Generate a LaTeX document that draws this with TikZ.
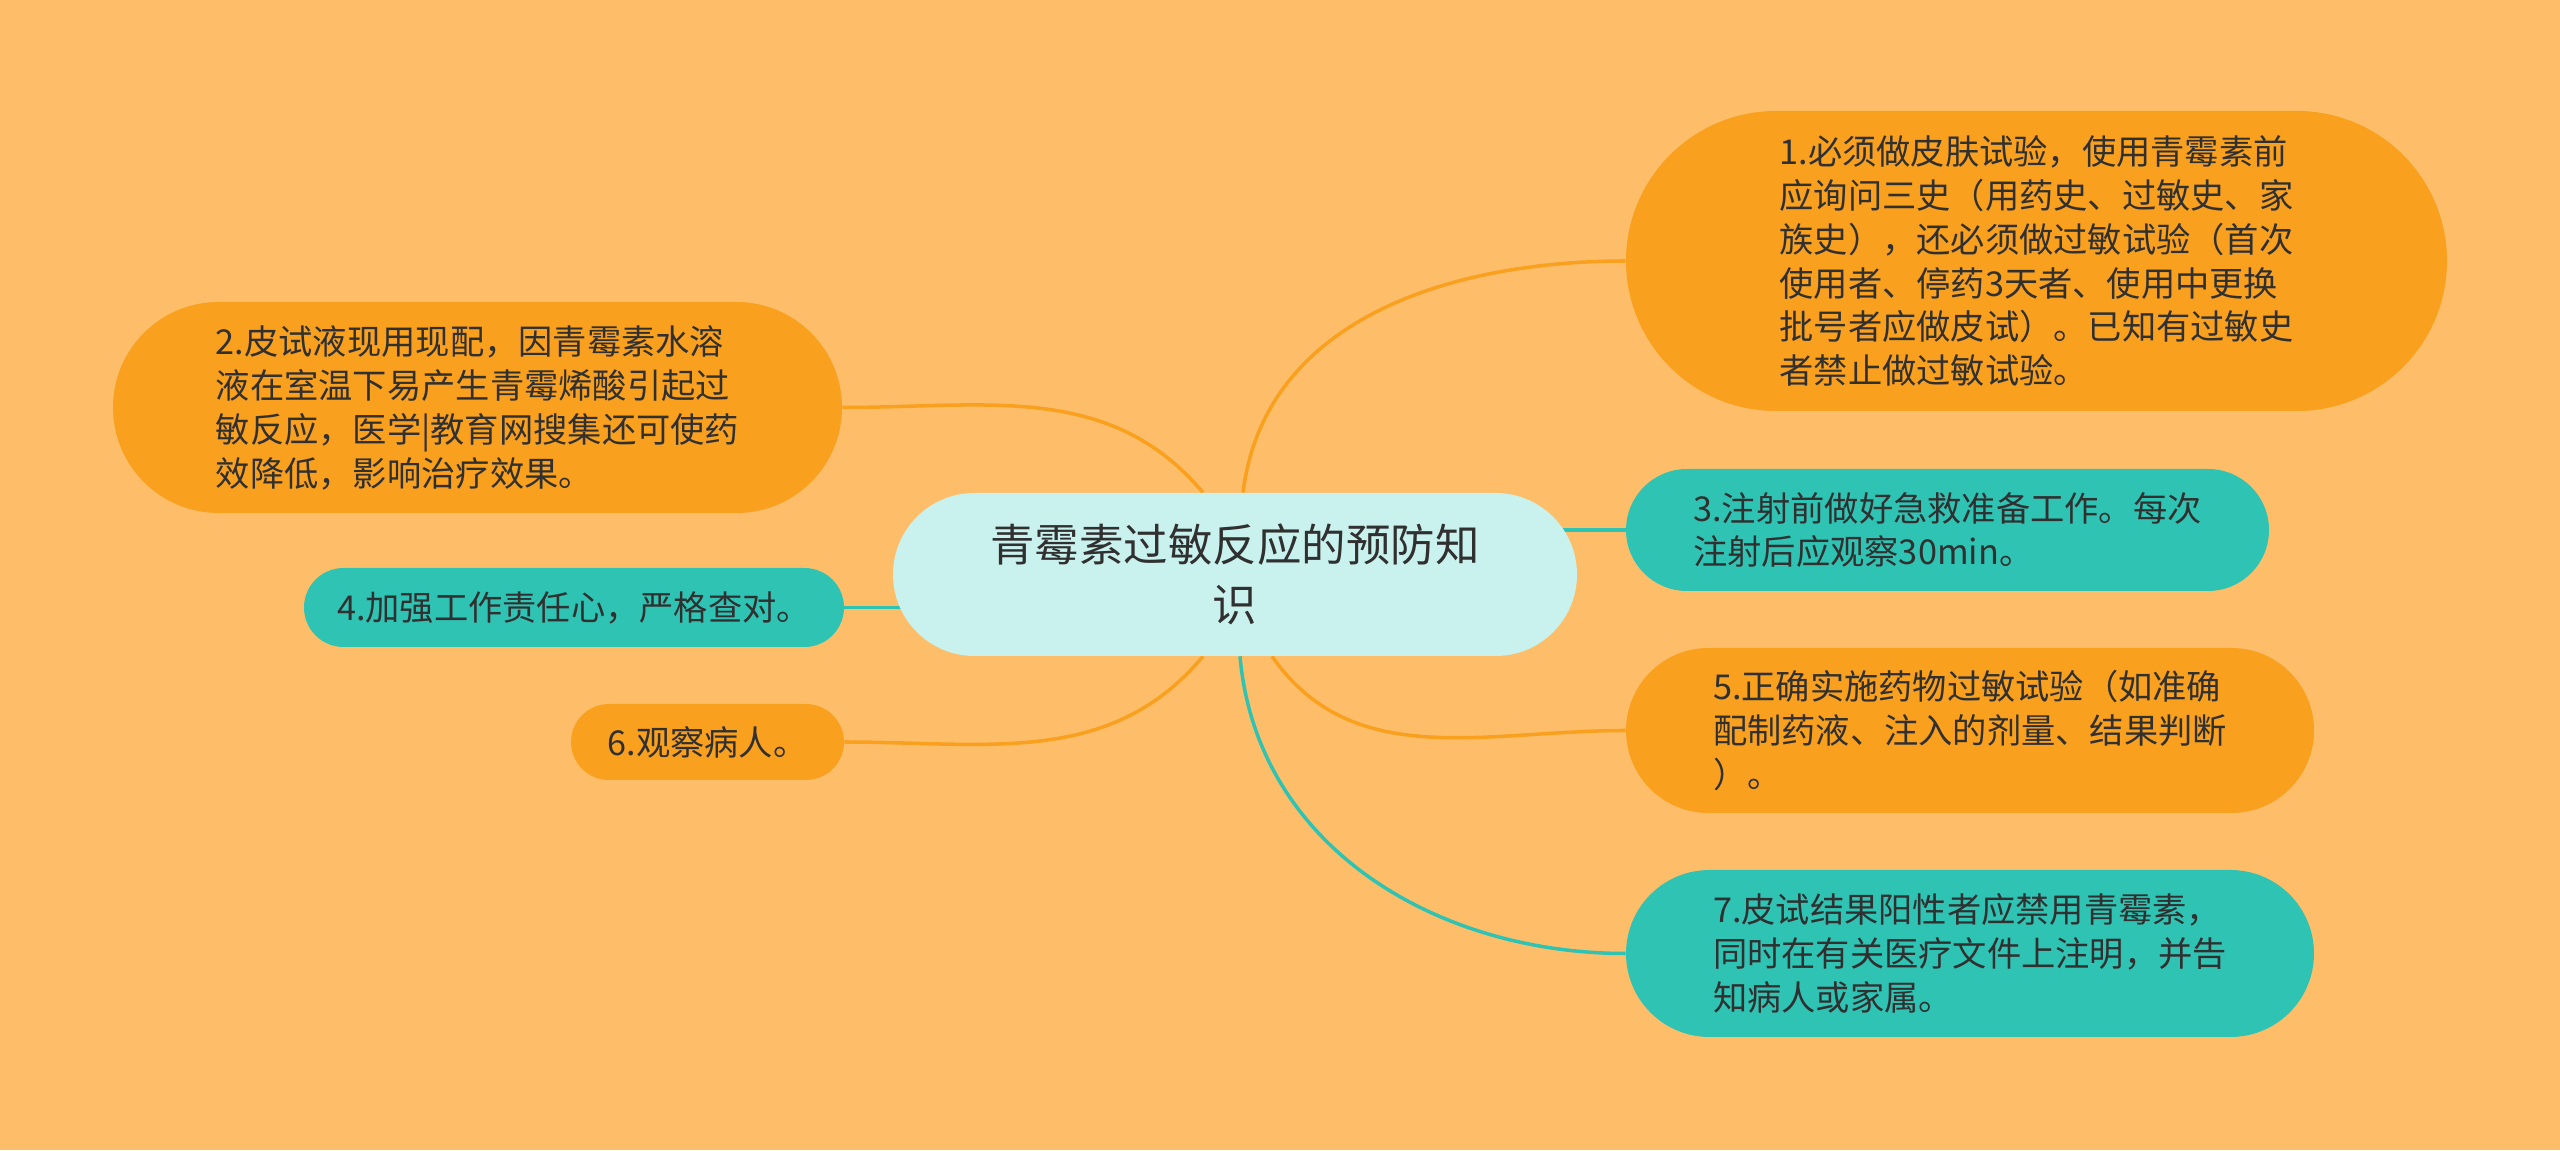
\documentclass[tikz,border=0pt]{standalone}
\usepackage{fontspec}
\setmainfont{Noto Sans CJK SC}
\usetikzlibrary{shapes.misc,backgrounds,calc}

\definecolor{bgorange}{HTML}{FEBE69}
\definecolor{leaforange}{HTML}{F9A01E}
\definecolor{leafteal}{HTML}{2FC3B4}
\definecolor{rootcyan}{HTML}{C9F2EE}
\definecolor{textgray}{HTML}{303030}

\begin{document}
\begin{tikzpicture}[
  x = 0.02cm, y = 0.02cm,
  every node/.style = {rounded rectangle, inner sep = 0pt, align = left, text = textgray,
                       font = \fontsize{19.5pt}{25pt}\selectfont},
  root/.style = {fill = rootcyan, align = center, font = \fontsize{25.3pt}{34pt}\selectfont},
  orangeleaf/.style = {fill = leaforange},
  tealleaf/.style = {fill = leafteal},
  boxsize/.style 2 args = {minimum width = #1*0.02cm, minimum height = #2*0.02cm},
  link/.style = {line width = 2pt},
  ]
  \node[root, boxsize = {684}{163}] (ctr) at (1235,575.5) {青霉素过敏反应的预防知\\识};

  % right side
  \node[orangeleaf, boxsize = {821}{300}] (n1) at (2036.5,889)
    {1.必须做皮肤试验，使用青霉素前\\应询问三史（用药史、过敏史、家\\族史），还必须做过敏试验（首次\\使用者、停药3天者、使用中更换\\批号者应做皮试）。已知有过敏史\\者禁止做过敏试验。};
  \node[tealleaf, boxsize = {643}{122}] (n3) at (1947.5,620)
    {3.注射前做好急救准备工作。每次\\注射后应观察30min。};
  \node[orangeleaf, boxsize = {688}{165}] (n5) at (1970,419.5)
    {5.正确实施药物过敏试验（如准确\\配制药液、注入的剂量、结果判断\\）。};
  \node[tealleaf, boxsize = {688}{167}] (n7) at (1970,196.5)
    {7.皮试结果阳性者应禁用青霉素，\\同时在有关医疗文件上注明，并告\\知病人或家属。};

  % left side
  \node[orangeleaf, boxsize = {729}{211}] (n2) at (477.5,742.5)
    {2.皮试液现用现配，因青霉素水溶\\液在室温下易产生青霉烯酸引起过\\敏反应，医学|教育网搜集还可使药\\效降低，影响治疗效果。};
  \node[tealleaf, boxsize = {540}{79}] (n4) at (574,542.5) {4.加强工作责任心，严格查对。};
  \node[orangeleaf, boxsize = {273}{76}] (n6) at (707.5,408) {6.观察病人。};

  \begin{scope}[on background layer]
    \fill[bgorange] (0,0) rectangle (2560,1150);
    \draw[link, leaforange] ($(ctr.north)+(8,0)$) to[out=83, in=180] (n1.west);
    \draw[link, leaforange] (n2.east) to[out=0, in=130] ($(ctr.north)+(-32,0)$);
    \draw[link, leafteal] (ctr.center |- n3.west) -- (n3.west);
    \draw[link, leafteal] (n4.east) -- (ctr.center |- n4.east);
    \draw[link, leaforange] ($(ctr.south)+(37,0)$) to[out=-55, in=180] (n5.west);
    \draw[link, leaforange] (n6.east) to[out=0, in=-130] ($(ctr.south)+(-32,0)$);
    \draw[link, leafteal] ($(ctr.south)+(5,0)$) to[out=-85, in=180] (n7.west);
  \end{scope}
\end{tikzpicture}
\end{document}
